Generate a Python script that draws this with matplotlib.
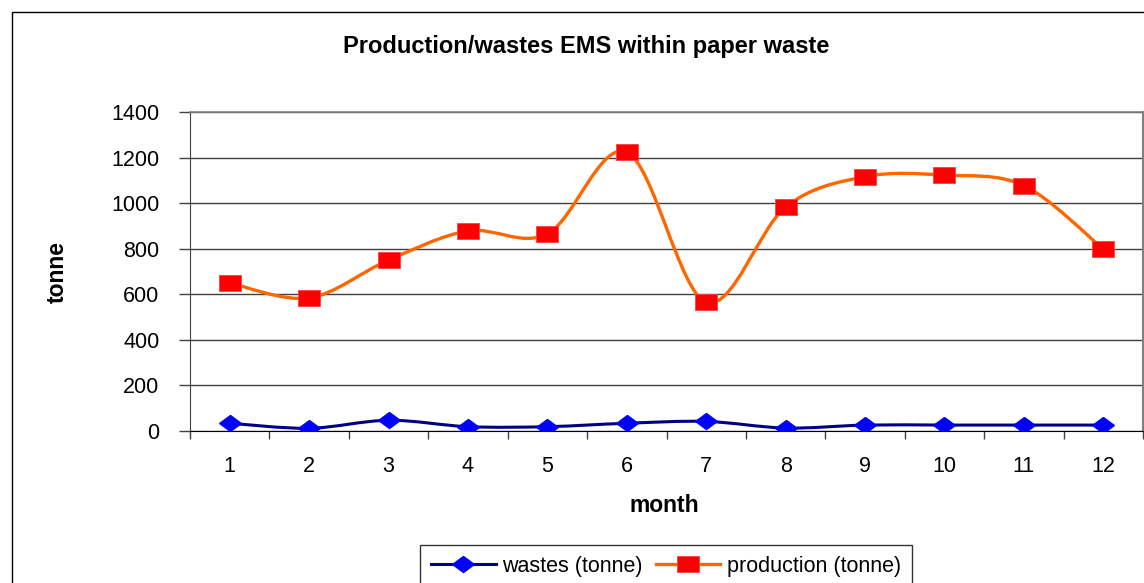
import numpy as np
import matplotlib
matplotlib.use("Agg")
import matplotlib.pyplot as plt
from matplotlib.path import Path
from matplotlib.patches import PathPatch, Rectangle
from matplotlib.lines import Line2D

plt.rcParams['font.family'] = ['Liberation Sans', 'DejaVu Sans']

# data
months = [1, 2, 3, 4, 5, 6, 7, 8, 9, 10, 11, 12]
month_labels = [str(m) for m in months]
wastes = [34, 12, 47, 19, 19, 34, 42, 13, 26, 26, 26, 26]
production = [650, 584, 750, 878, 865, 1224, 565, 983, 1116, 1123, 1077, 798]
y_ticks = [0, 200, 400, 600, 800, 1000, 1200, 1400]

title = "Production/wastes EMS within paper waste"
x_label = "month"
y_label = "tonne"
legend_labels = ["wastes (tonne)", "production (tonne)"]


def smooth_path(xs, ys):
    # Excel-like smoothed line: cubic Bezier segments through the points
    pts = np.column_stack([xs, ys]).astype(float)
    n = len(pts)
    verts = [pts[0]]
    codes = [Path.MOVETO]
    for i in range(n - 1):
        p0 = pts[i - 1] if i > 0 else pts[i]
        p1 = pts[i]
        p2 = pts[i + 1]
        p3 = pts[i + 2] if i + 2 < n else pts[i + 1]
        verts += [p1 + (p2 - p0) / 6, p2 - (p3 - p1) / 6, p2]
        codes += [Path.CURVE4] * 3
    return Path(verts, codes)


# markers are a bit wider than tall in the reference
diamond = [(0, 1), (1.35, 0), (0, -1), (-1.35, 0), (0, 1)]
rect = [(-1.46, -1), (1.46, -1), (1.46, 1), (-1.46, 1), (-1.46, -1)]

W, H = 1144, 583
fig = plt.figure(figsize=(W / 100, H / 100), dpi=100)
ax = fig.add_axes([190 / W, 152 / H, 953 / W, 319 / H])

ax.add_patch(PathPatch(smooth_path(months, wastes), fill=False,
                       edgecolor='#000080', lw=2.2, zorder=3))
ax.plot(months, wastes, linestyle='none', marker=diamond, ms=15.6,
        mfc='#0000ff', mec='#0000ff', zorder=4)

ax.add_patch(PathPatch(smooth_path(months, production), fill=False,
                       edgecolor='#ff6600', lw=2.4, zorder=3))
ax.plot(months, production, linestyle='none', marker=rect, ms=16.3,
        mfc='#ff0000', mec='#ff4040', mew=0.6, zorder=4)

ax.set_xlim(0.5, 12.5)
ax.set_ylim(0, 1400)

ax.set_xticks(months)
ax.set_xticklabels(month_labels, fontsize=15.5)
ax.set_xticks(np.arange(0.5, 13, 1), minor=True)
ax.tick_params(axis='x', which='major', length=0, pad=18)
ax.tick_params(axis='x', which='minor', length=6, width=1, color='#404040', direction='out')

ax.set_yticks(y_ticks)
ax.set_yticklabels([str(v) for v in y_ticks], fontsize=15.5)
ax.tick_params(axis='y', length=8, width=1, color='#404040', pad=14)

ax.yaxis.grid(True, color='#404040', lw=1)
ax.set_axisbelow(True)

ax.spines['top'].set_color('#808080')
ax.spines['right'].set_color('#808080')
ax.spines['top'].set_linewidth(1.2)
ax.spines['right'].set_linewidth(1.5)
ax.spines['left'].set_color('#404040')
ax.spines['bottom'].set_color('black')

fig.text(586 / W, 1 - 46 / H, title, fontsize=17, fontweight='bold', ha='center', va='center')
fig.text(664 / W, 1 - 506 / H, x_label, fontsize=16.5, fontweight='bold', ha='center', va='center')
fig.text(57 / W, 1 - 272 / H, y_label, fontsize=16.5, fontweight='bold', ha='center', va='center', rotation=90)

handles = [
    Line2D([], [], color='#000080', lw=2.2, marker=diamond, ms=15.6, mfc='#0000ff', mec='#0000ff'),
    Line2D([], [], color='#ff6600', lw=2.4, marker=rect, ms=16.3, mfc='#ff0000', mec='#ff4040', mew=0.6),
]
leg = fig.legend(handles, legend_labels, loc='upper center', bbox_to_anchor=(666 / W, 1 - 545 / H),
                 ncol=2, fontsize=15.5, frameon=True, fancybox=False, edgecolor='black',
                 handlelength=3.0, handletextpad=0.3, columnspacing=0.6, borderpad=0.5,
                 numpoints=1, borderaxespad=0)
leg.get_frame().set_linewidth(1)

# outer chart border (cut off at the right and bottom)
fig.patches.append(Rectangle((12 / W, -0.1), 1.2, 1 - 12 / H + 0.1, transform=fig.transFigure,
                             fill=False, edgecolor='black', lw=1))

fig.savefig('out.png', dpi=100)
